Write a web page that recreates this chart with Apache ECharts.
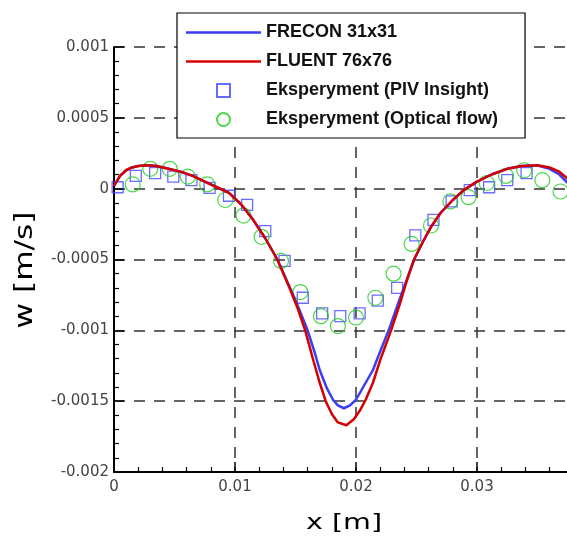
<!DOCTYPE html>
<html>
<head>
<meta charset="utf-8">
<script src="https://cdn.jsdelivr.net/npm/echarts@6/dist/echarts.min.js"></script>
<style>
  html, body { margin: 0; padding: 0; background: #fff; }
  #chart { width: 567px; height: 536px; }
</style>
</head>
<body>
<div id="chart"></div>
<script>
// FLUENT 76x76 (red)
var fluentX = [0, 0.0005, 0.001, 0.0015, 0.002, 0.0027, 0.0035, 0.0045, 0.0055, 0.0065, 0.0075, 0.0085, 0.0095, 0.0105, 0.0115, 0.0125, 0.0135, 0.0145, 0.0152, 0.0158, 0.0165, 0.017, 0.0175, 0.018, 0.0185, 0.0192, 0.0198, 0.0203, 0.0208, 0.0214, 0.022, 0.0229, 0.0236, 0.0242, 0.0248, 0.0255, 0.0262, 0.027, 0.028, 0.0289, 0.03, 0.0312, 0.0325, 0.0337, 0.035, 0.036, 0.0368, 0.0375];
var fluentY = [0.00002, 0.00009, 0.00013, 0.00015, 0.00016, 0.000165, 0.00016, 0.00014, 0.00012, 0.00009, 0.00005, 0.00001, -0.00003, -0.00011, -0.00022, -0.00035, -0.0005, -0.0007, -0.00085, -0.001, -0.00122, -0.00137, -0.0015, -0.00159, -0.00165, -0.00167, -0.00163, -0.00157, -0.00149, -0.00137, -0.00121, -0.001, -0.00082, -0.00065, -0.0005, -0.00038, -0.00027, -0.00017, -0.00008, -0.00001, 0.00005, 0.0001, 0.00014, 0.00016, 0.000165, 0.00015, 0.00012, 0.00007];

// FRECON 31x31 (blue)
var freconX = [0, 0.0005, 0.001, 0.0015, 0.002, 0.0027, 0.0035, 0.0045, 0.0055, 0.0065, 0.0075, 0.0085, 0.0095, 0.0105, 0.0115, 0.0125, 0.0135, 0.0145, 0.0152, 0.016, 0.0166, 0.017, 0.0176, 0.0181, 0.0185, 0.019, 0.0195, 0.02, 0.0206, 0.0214, 0.022, 0.0227, 0.0234, 0.0242, 0.0248, 0.0255, 0.0262, 0.027, 0.028, 0.0289, 0.03, 0.0312, 0.0325, 0.0337, 0.035, 0.036, 0.0368, 0.0375];
var freconY = [0.00002, 0.00009, 0.00013, 0.00015, 0.00016, 0.000165, 0.00016, 0.00014, 0.00012, 0.00009, 0.00005, 0.00001, -0.00003, -0.00011, -0.00022, -0.00035, -0.0005, -0.00069, -0.00083, -0.001, -0.00116, -0.00128, -0.00141, -0.00149, -0.00153, -0.00155, -0.00153, -0.00149, -0.0014, -0.00128, -0.00115, -0.001, -0.00083, -0.00064, -0.0005, -0.00038, -0.00027, -0.00017, -0.00008, -0.00001, 0.00005, 0.0001, 0.00014, 0.00016, 0.000163, 0.00014, 0.0001, 0.00004];

// Eksperyment (PIV Insight) - squares
var pivX = [0.0003, 0.0018, 0.0034, 0.0049, 0.0064, 0.0079, 0.0095, 0.011, 0.0125, 0.0141, 0.0156, 0.0172, 0.0187, 0.0203, 0.0218, 0.0234, 0.0249, 0.0264, 0.0279, 0.0294, 0.031, 0.0325, 0.0341];
var pivY = [0.00001, 0.00009, 0.00011, 0.000085, 0.00006, 0.000005, -0.00005, -0.000115, -0.0003, -0.00051, -0.00077, -0.00088, -0.0009, -0.00088, -0.00079, -0.0007, -0.00033, -0.00022, -0.00009, -0.00001, 0.00001, 0.00006, 0.00011];

// Eksperyment (Optical flow) - circles
var ofX = [0.00155, 0.003, 0.0046, 0.0061, 0.0077, 0.0092, 0.0107, 0.0122, 0.0138, 0.0154, 0.0171, 0.0185, 0.02, 0.0216, 0.0231, 0.0246, 0.0262, 0.0278, 0.0293, 0.0308, 0.0324, 0.0339, 0.0354, 0.0369];
var ofY = [0.00003, 0.00014, 0.00014, 0.000085, 0.00003, -0.00008, -0.00019, -0.00034, -0.00051, -0.00073, -0.0009, -0.00097, -0.00091, -0.00077, -0.0006, -0.00039, -0.00026, -0.00009, -0.00006, 0.00004, 0.00009, 0.00013, 0.00006, -0.00002];

var seriesNames = ['FRECON 31x31', 'FLUENT 76x76', 'Eksperyment (PIV Insight)', 'Eksperyment (Optical flow)'];

function zip(xs, ys) {
    var out = [];
    for (var i = 0; i < xs.length; i++) {
        out.push([xs[i], ys[i]]);
    }
    return out;
}

var font = "'Liberation Sans', Arial, sans-serif";
var tickFont = "'DejaVu Sans', sans-serif";

var dom = document.getElementById('chart');
var myChart = echarts.init(dom);

var option = {
    animation: false,
    backgroundColor: '#fff',
    // plot runs past the right edge of the picture, as in the original
    grid: { left: 114, top: 47, width: 484, height: 425, containLabel: false, outerBoundsMode: 'none' },
    legend: {
        orient: 'vertical',
        left: 177,
        top: 13,
        padding: [9, 27, 8, 9],
        itemWidth: 75,
        itemHeight: 13,
        itemGap: 8,
        itemTextGap: 16,
        backgroundColor: '#fff',
        borderColor: '#000',
        borderWidth: 1.2,
        borderRadius: 0,
        textStyle: { fontFamily: font, fontWeight: 'bold', fontSize: 18, color: '#111', lineHeight: 21 },
        data: [
            { name: seriesNames[0], icon: 'path://M0,0H75V2.6H0Z' },
            { name: seriesNames[1], icon: 'path://M0,0H75V2.6H0Z' },
            { name: seriesNames[2], icon: 'path://M0,0H10V10H0Z' },
            { name: seriesNames[3], icon: 'circle' }
        ]
    },
    xAxis: {
        type: 'value',
        min: 0,
        max: 0.04,
        interval: 0.01,
        axisLine: { onZero: false, lineStyle: { color: '#000', width: 2 } },
        axisTick: { inside: true, length: 10, lineStyle: { color: '#000', width: 1.5 } },
        minorTick: { show: true, splitNumber: 5, length: 5, lineStyle: { color: '#000', width: 1.2 } },
        splitLine: { show: true, lineStyle: { color: '#333', type: [11, 9], width: 1.5 } },
        axisLabel: {
            margin: 8, fontFamily: tickFont, fontSize: 15, color: '#444', showMaxLabel: false,
            formatter: function (v) { return String(+v.toFixed(3)); }
        }
    },
    yAxis: {
        type: 'value',
        min: -0.002,
        max: 0.001,
        interval: 0.0005,
        axisLine: { show: true, onZero: false, lineStyle: { color: '#000', width: 2 } },
        axisTick: { show: true, inside: true, length: 10, lineStyle: { color: '#000', width: 1.5 } },
        minorTick: { show: true, splitNumber: 5, length: 5, lineStyle: { color: '#000', width: 1.2 } },
        splitLine: { show: true, lineStyle: { color: '#333', type: [11, 9], width: 1.5 } },
        axisLabel: {
            margin: 5, fontFamily: tickFont, fontSize: 15, color: '#444',
            formatter: function (v) { return String(+v.toFixed(4)); }
        }
    },
    graphic: [
        {
            type: 'text', x: 26, y: 270, rotation: Math.PI / 2, scaleX: 1.3,
            style: { text: 'w [m/s]', font: "24px 'DejaVu Sans', sans-serif", fill: '#000', textAlign: 'center', textVerticalAlign: 'middle' }
        },
        {
            type: 'text', x: 344, y: 523, scaleX: 1.3,
            style: { text: 'x [m]', font: "22px 'DejaVu Sans', sans-serif", fill: '#000', textAlign: 'center', textVerticalAlign: 'middle' }
        }
    ],
    series: [
        {
            name: seriesNames[0], type: 'line', symbol: 'none', smooth: false,
            lineStyle: { color: '#3c3cf0', width: 2.5 }, itemStyle: { color: '#3c3cf0' },
            data: zip(freconX, freconY)
        },
        {
            name: seriesNames[1], type: 'line', symbol: 'none', smooth: false,
            lineStyle: { color: '#d40000', width: 2.5 }, itemStyle: { color: '#d40000' },
            data: zip(fluentX, fluentY)
        },
        {
            name: seriesNames[2], type: 'scatter', symbol: 'rect', symbolSize: 11,
            itemStyle: { color: 'rgba(0,0,0,0)', borderColor: '#4646ff', borderWidth: 1.3 },
            data: zip(pivX, pivY)
        },
        {
            name: seriesNames[3], type: 'scatter', symbol: 'circle', symbolSize: 15,
            itemStyle: { color: 'rgba(0,0,0,0)', borderColor: '#22cc22', borderWidth: 1.2 },
            data: zip(ofX, ofY)
        }
    ]
};

myChart.setOption(option, true);
</script>
</body>
</html>
